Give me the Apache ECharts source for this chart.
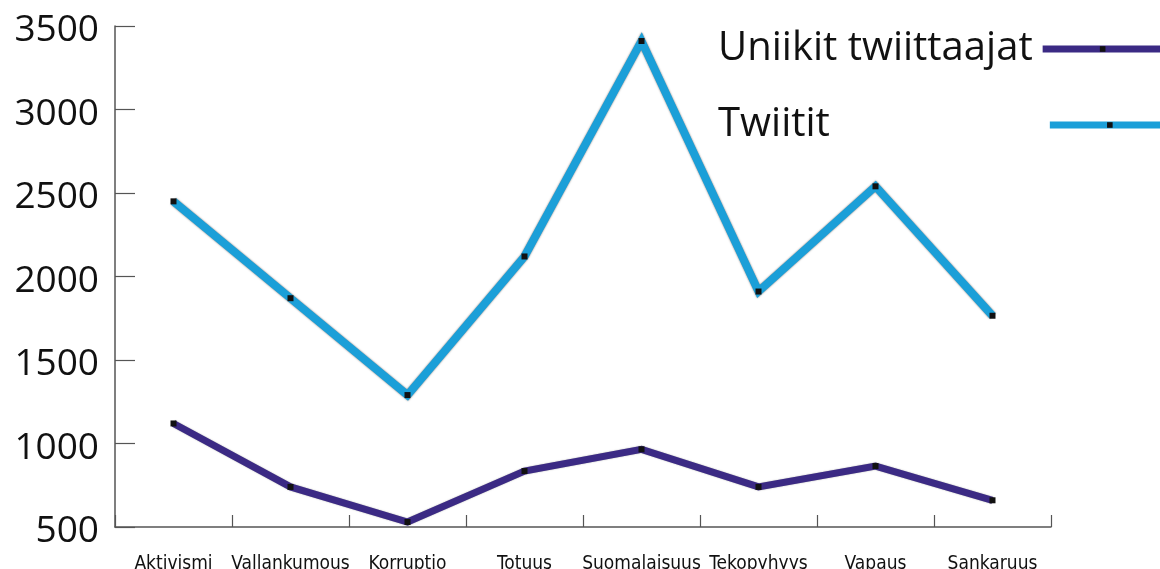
<!DOCTYPE html>
<html>
<head>
<meta charset="utf-8">
<script src="https://cdn.jsdelivr.net/npm/echarts@6/dist/echarts.min.js"></script>
<style>
  html, body { margin: 0; padding: 0; background: #fff; }
  #chart { width: 1160px; height: 569px; }
</style>
</head>
<body>
<div id="chart"></div>
<script>
// Hashtag themes
const categories = ['Aktivismi', 'Vallankumous', 'Korruptio', 'Totuus', 'Suomalaisuus', 'Tekopyhyys', 'Vapaus', 'Sankaruus'];
// Unique tweeters per theme
const uniikitTwiittaajat = [1120, 740, 530, 835, 965, 740, 865, 660];
// Tweets per theme
const twiitit = [2450, 1870, 1290, 2120, 3410, 1910, 2540, 1765];
// Value axis range
const yMin = 500;
const yMax = 3500;
const yStep = 500;

const PURPLE = '#3b2a84';
const BLUE = '#1b9fd8';
const MARK = '#111111';
const AXIS = '#555555';

const chart = echarts.init(document.getElementById('chart'), null, { renderer: 'canvas' });

const legendText = {
  fontFamily: '"Open Sans", "Noto Sans", sans-serif',
  fontSize: 40,
  color: '#111'
};

chart.setOption({
  animation: false,
  backgroundColor: '#ffffff',
  grid: { left: 115, right: 109, top: 26, bottom: 42, containLabel: false, outerBoundsMode: 'none' },
  legend: [
    {
      data: ['Uniikit twiittaajat'],
      left: 713, top: 24,
      align: 'right',
      itemWidth: 120, itemHeight: 7,
      lineStyle: { width: 7 },
      textStyle: Object.assign({ padding: [0, 5, 0, 0] }, legendText)
    },
    {
      data: ['Twiitit'],
      left: 713, top: 100,
      align: 'right',
      itemWidth: 120, itemHeight: 7,
      lineStyle: { width: 7 },
      textStyle: Object.assign({ padding: [4, 215, 0, 0] }, legendText)
    }
  ],
  xAxis: {
    type: 'category',
    data: categories,
    boundaryGap: true,
    axisLine: { show: true, lineStyle: { color: AXIS, width: 1.5 } },
    axisTick: { show: true, inside: true, length: 12, interval: 0, lineStyle: { color: AXIS, width: 1.2 } },
    axisLabel: {
      interval: 0,
      margin: 28,
      fontFamily: '"DejaVu Sans Condensed", sans-serif',
      fontSize: 19,
      color: '#111'
    },
    splitLine: { show: false }
  },
  yAxis: {
    type: 'value',
    min: yMin, max: yMax, interval: yStep,
    axisLine: { show: true, lineStyle: { color: AXIS, width: 1.5 } },
    axisTick: { show: true, inside: true, length: 20, lineStyle: { color: AXIS, width: 1.2 } },
    axisLabel: {
      margin: 16,
      formatter: v => '{v|' + v + '}',
      rich: {
        v: {
          padding: [9, 0, 0, 0],
          fontFamily: '"Open Sans", "Noto Sans", sans-serif',
          fontSize: 37,
          color: '#111'
        }
      },
      fontFamily: '"Open Sans", "Noto Sans", sans-serif',
      fontSize: 37,
      color: '#111'
    },
    splitLine: { show: false }
  },
  series: [
    {
      name: 'Uniikit twiittaajat',
      type: 'line',
      data: uniikitTwiittaajat,
      symbol: 'rect',
      symbolSize: 6,
      showAllSymbol: true,
      color: PURPLE,
      itemStyle: { color: MARK },
      lineStyle: { color: PURPLE, width: 7, join: 'miter', cap: 'butt',
        shadowColor: 'rgba(0,0,0,0.35)', shadowBlur: 1.5 },
      emphasis: { disabled: true }
    },
    {
      name: 'Twiitit',
      type: 'line',
      data: twiitit,
      symbol: 'rect',
      symbolSize: 6,
      showAllSymbol: true,
      color: BLUE,
      itemStyle: { color: MARK },
      lineStyle: { color: BLUE, width: 8, join: 'miter', cap: 'butt',
        shadowColor: 'rgba(0,0,0,0.55)', shadowBlur: 2 },
      emphasis: { disabled: true }
    }
  ]
});
</script>
</body>
</html>
